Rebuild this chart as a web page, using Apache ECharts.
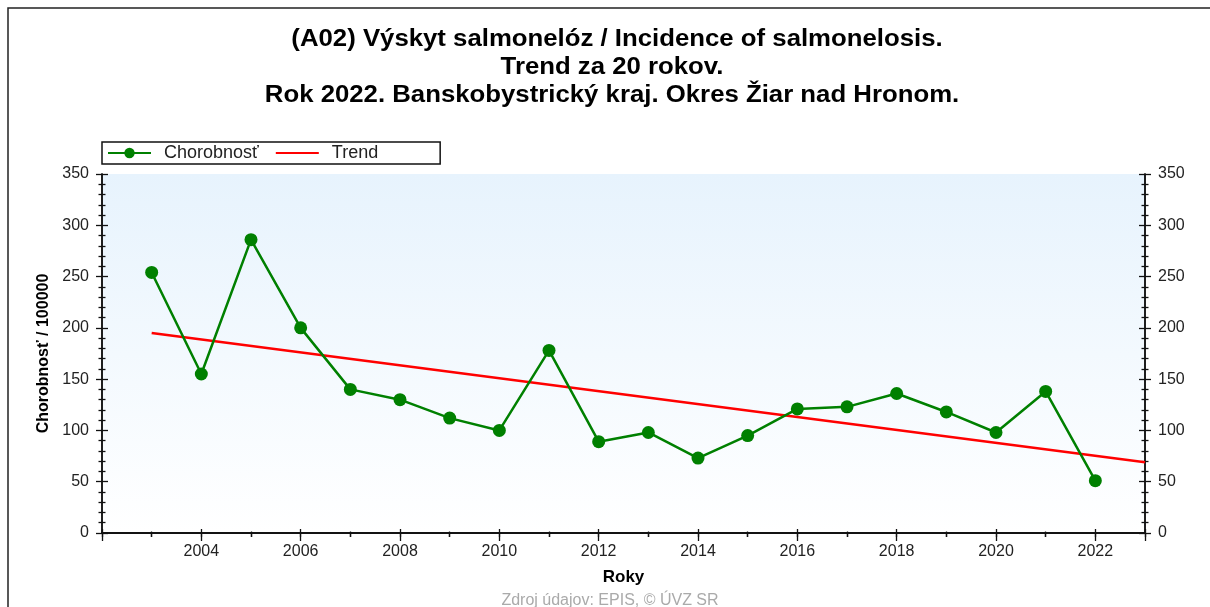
<!DOCTYPE html>
<html>
<head>
<meta charset="utf-8">
<script src="https://cdn.jsdelivr.net/npm/echarts@6/dist/echarts.min.js"></script>
<style>html,body{margin:0;padding:0;background:#fff;}#c{width:1210px;height:607px;}</style>
</head>
<body>
<div id="c"></div>
<script>
const years = [2003,2004,2005,2006,2007,2008,2009,2010,2011,2012,2013,2014,2015,2016,2017,2018,2019,2020,2021,2022];
const incidence = [254,155,286,200,140,130,112,100,178,89,98,73,95,121,123,136,118,98,138,51];
const trendYears = [2003,2023];
const trendValues = [195,69];
const yTicks = [0,50,100,150,200,250,300,350];
const titleLines = ['(A02) Výskyt salmonelóz / Incidence of salmonelosis.','Trend za 20 rokov.','Rok 2022. Banskobystrický kraj. Okres Žiar nad Hronom.'];
const sourceText = 'Zdroj údajov: EPIS, © ÚVZ SR';

const FONT = '"Liberation Sans", Arial, sans-serif';
const chart = echarts.init(document.getElementById('c'));
const axisLine = {show:true, lineStyle:{color:'#111', width:1.5}};
function yAx(pos, inside, labels){
  return {type:'value', position:pos, min:yTicks[0], max:yTicks[yTicks.length-1], interval:50,
    axisLine:axisLine, splitLine:{show:false},
    axisTick:{show:true, inside:inside, length:6, lineStyle:{color:'#111', width:1.3}},
    minorTick:{show:true, splitNumber:5, length:3.5, lineStyle:{color:'#111', width:1.3}},
    axisLabel:{show:labels, color:'#222', fontSize:16, fontFamily:FONT, margin:13},
    name: (pos==='left' && labels) ? 'Chorobnosť / 100000' : '',
    nameLocation:'middle', nameGap:50, nameMoveOverlap:false,
    nameTextStyle:{fontWeight:'bold', fontSize:16, color:'#000', fontFamily:FONT}
  };
}
function xAx(pos, inside, len, mlen, labels, interval){
  return {type:'value', position:pos, min:2002, max:2023, interval:interval,
    axisLine:axisLine, splitLine:{show:false},
    axisTick:{show:true, inside:inside, length:len, lineStyle:{color:'#111', width:1.3}},
    minorTick:{show: interval===2, splitNumber:2, length:mlen, lineStyle:{color:'#111', width:1.3}},
    axisLabel:{show:labels, color:'#222', fontSize:16, fontFamily:FONT, margin:11,
      formatter: v => ((v===2002 || v>2022) ? '' : String(v))},
    name: labels ? 'Roky' : '', nameLocation:'middle', nameGap:36,
    nameTextStyle:{fontWeight:'bold', fontSize:17, color:'#000', fontFamily:FONT}
  };
}
const titleX = [617, 612, 612];
const titleGraphics = titleLines.map((t,i)=>({type:'text', x:titleX[i], y:40 + i*28, scaleX:1.12, silent:true,
  style:{text:t, align:'center', verticalAlign:'middle', fill:'#000', font:'bold 23px ' + FONT}}));
chart.setOption({
  animation:false,
  backgroundColor:'#fff',
  legend:{left:102, top:142, itemWidth:43, itemHeight:13, itemGap:16,
    padding:[2,62,2,5], borderColor:'#111', borderWidth:1.5, backgroundColor:'#fff',
    textStyle:{fontSize:18, color:'#222', fontFamily:FONT, padding:[0,0,0,8]},
    data:[{name:'Chorobnosť'},{name:'Trend', itemStyle:{opacity:0}}]},
  grid:{left:102, right:65, top:174, bottom:74, show:true, borderWidth:0,
    backgroundColor:{type:'linear', x:0, y:0, x2:0, y2:1,
      colorStops:[{offset:0,color:'#e7f3fd'},{offset:1,color:'#ffffff'}]}},
  xAxis:[xAx('bottom', false, 8, 4, true, 2), xAx('bottom', true, 4, 1.5, false, 2), xAx('top', true, 4, 0, false, 1)],
  yAxis:[yAx('left', false, true), yAx('left', true, false), yAx('right', false, true), yAx('right', true, false)],
  graphic:[
    {type:'rect', shape:{x:8, y:8, width:1300, height:800}, style:{fill:'none', stroke:'#222', lineWidth:1.5}, silent:true},
    ...titleGraphics,
    {type:'text', x:610, y:593, silent:true, style:{text:sourceText, align:'center', verticalAlign:'top', fill:'#aaa', font:'16px ' + FONT}}
  ],
  series:[
    {name:'Chorobnosť', type:'line', xAxisIndex:0, yAxisIndex:0,
      data: years.map((y,i)=>[y, incidence[i]]),
      symbol:'circle', symbolSize:13, itemStyle:{color:'#008000'},
      lineStyle:{color:'#008000', width:2.5}, z:3},
    {name:'Trend', type:'line', xAxisIndex:0, yAxisIndex:0,
      data: trendYears.map((y,i)=>[y, trendValues[i]]),
      symbol:'none', itemStyle:{color:'#ff0000'}, lineStyle:{color:'#ff0000', width:2.5}, z:2}
  ]
});
</script>
</body>
</html>
